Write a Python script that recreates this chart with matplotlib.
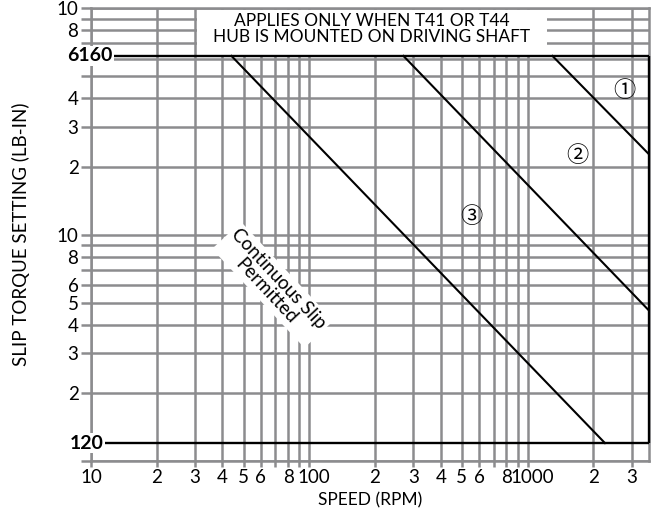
import matplotlib
matplotlib.use("Agg")
import matplotlib.pyplot as plt
import matplotlib.transforms as mtransforms
from matplotlib.patches import Rectangle

plt.rcParams['font.family'] = ['Lato', 'DejaVu Sans']

# ---------------- data ----------------
speed_ticks = [10, 20, 30, 40, 50, 60, 70, 80, 90,
               100, 200, 300, 400, 500, 600, 700, 800, 900,
               1000, 2000, 3000]
speed_tick_labels = ['10', '2', '3', '4', '5', '6', '', '8', '',
                     '100', '2', '3', '4', '5', '6', '', '8', '',
                     '1000', '2', '3']
torque_ticks = [100, 200, 300, 400, 500, 600, 700, 800, 900,
                1000, 2000, 3000, 4000, 5000, 6000, 7000, 8000, 9000, 10000]
torque_tick_labels = ['', '2', '3', '4', '5', '6', '', '8', '',
                      '10', '2', '3', '4', '', '', '', '8', '', '10']

speed_limits = [10, 3600]
torque_limits = [100, 10000]
speed_max = 3600
torque_max = 6160
torque_min = 120

line1_speed = [1300, 3600]
line1_torque = [6160, 2265]
line2_speed = [270, 3600]
line2_torque = [6160, 462]
line3_speed = [44, 2262]
line3_torque = [6160, 120]

curve_labels = ['①', '②', '③']
curve_label_speed = [2765, 1684, 554]
curve_label_torque = [4350, 2244, 1205]

note_text = "APPLIES ONLY WHEN T41 OR T44\nHUB IS MOUNTED ON DRIVING SHAFT"
slip_text = "Continuous Slip\nPermitted"
slip_speed = 68
slip_torque = 600

# ---------------- figure ----------------
GRID = '#8c8c8e'
LW = 1.8

fig = plt.figure(figsize=(6.58, 5.14), dpi=100)
ax = fig.add_axes([91 / 658, 53 / 514, 558 / 658, 452.7 / 514])
ax.set_xscale('log')
ax.set_yscale('log')
ax.set_xlim(*speed_limits)
ax.set_ylim(*torque_limits)

ax.set_xticks(speed_ticks)
ax.set_xticklabels(speed_tick_labels)
ax.set_yticks(torque_ticks)
ax.set_yticklabels(torque_tick_labels)
ax.minorticks_off()
ax.tick_params(axis='both', which='both', colors=GRID, width=LW,
               labelcolor='black', labelsize=13.5, direction='out')
ax.tick_params(axis='y', length=7, pad=2)
ax.tick_params(axis='x', length=4, pad=2)
ax.grid(True, which='major', color=GRID, lw=LW)
ax.set_axisbelow(True)
for s in ax.spines.values():
    s.set_color(GRID)
    s.set_linewidth(LW)

# nudge the decade labels right like the reference
shift = mtransforms.ScaledTranslation(5 / 100, 0, fig.dpi_scale_trans)
for lbl in ax.get_xticklabels():
    if lbl.get_text() in ('100', '1000'):
        lbl.set_transform(lbl.get_transform() + shift)

# black limits
ax.hlines([torque_max, torque_min], speed_limits[0], speed_max,
          colors='black', lw=1.7, zorder=3, clip_on=False)
ax.vlines(speed_max, torque_min, torque_max, colors='black', lw=1.7,
          zorder=3, clip_on=False)

# curves
for sp, tq in [(line1_speed, line1_torque), (line2_speed, line2_torque),
               (line3_speed, line3_torque)]:
    ax.plot(sp, tq, color='black', lw=1.5, zorder=3)

for lab, sp, tq in zip(curve_labels, curve_label_speed, curve_label_torque):
    ax.text(sp, tq, lab, ha='center', va='center', fontsize=16,
            family=['Noto Sans CJK JP', 'DejaVu Sans'], zorder=4)

# bold limit labels
trans = mtransforms.blended_transform_factory(ax.transAxes, ax.transData)
for val in [torque_max, torque_min]:
    ax.text(0.038 if val == torque_max else 0.022, val, str(val),
            transform=trans, ha='right', va='center', fontsize=14,
            fontweight='bold', zorder=5, clip_on=False,
            bbox=dict(facecolor='white', edgecolor='none', pad=1.0))

# note box
ax.add_patch(Rectangle((0.19, 0.897), 0.627, 0.099, transform=ax.transAxes,
                       facecolor='white', edgecolor='none', zorder=2.5))
ax.text(0.5035, 0.954, note_text, transform=ax.transAxes, ha='center',
        va='center', fontsize=12.5, linespacing=1.0, zorder=4)

# continuous slip text
ax.text(slip_speed, slip_torque, slip_text, ha='center', va='center',
        rotation=-47, rotation_mode='anchor', fontsize=13.5,
        linespacing=1.0, zorder=4,
        bbox=dict(facecolor='white', edgecolor='none', pad=2))

ax.set_xlabel('SPEED (RPM)', fontsize=12.5, labelpad=4)
ax.set_ylabel('SLIP TORQUE SETTING (LB-IN)', fontsize=13.5, labelpad=19)

fig.savefig('out.png', dpi=100)
